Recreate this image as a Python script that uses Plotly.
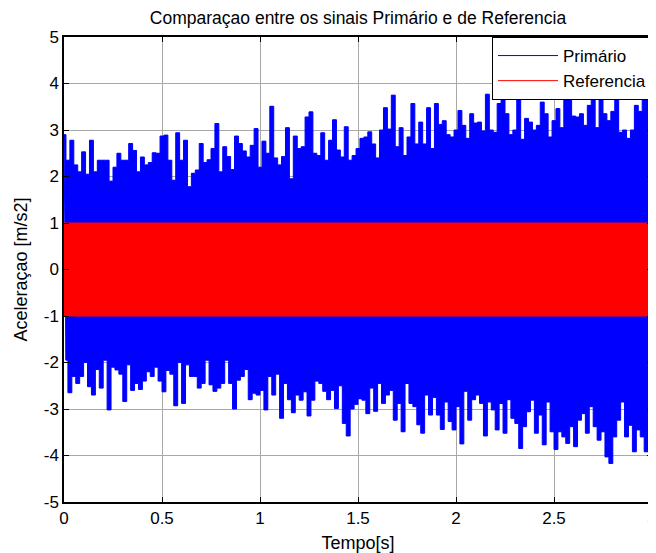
import numpy as np
import plotly.graph_objects as go

# ---- data ----
# Primary signal: positive peaks (every 0.02 s starting at 0.00 s)
primario_picos_sup = [
    2.90, 2.35, 2.78, 2.25, 2.10, 2.53, 2.05, 2.78, 2.10, 2.35,
    2.35, 2.35, 1.90, 2.20, 2.50, 2.35, 2.35, 2.71, 2.56, 2.10,
    2.42, 2.25, 2.30, 2.51, 2.50, 2.87, 2.89, 2.35, 1.92, 2.94,
    2.35, 2.78, 1.78, 2.07, 2.14, 2.71, 2.30,
    2.36, 2.60, 3.14, 2.10, 2.64, 2.43, 2.15, 2.87, 2.71, 2.55,
    2.42, 2.67, 3.03, 2.20, 2.76, 2.50, 3.51, 2.40, 2.25, 2.43,
    3.05, 1.95, 2.87, 2.60, 2.64, 3.28, 3.39, 2.50, 2.45, 2.94,
    2.35, 2.78, 3.22, 2.57, 2.42, 3.07, 2.35, 2.45,
    2.60, 2.82, 2.85, 2.96, 2.70, 2.40, 3.00, 3.48, 3.02, 3.75,
    2.64, 3.05, 2.45, 2.85, 3.57, 2.70, 3.17, 2.70, 3.48, 2.60,
    3.57, 3.12, 3.20, 2.90, 2.85, 3.00, 3.42, 3.10, 2.82, 3.35,
    3.15, 3.17, 2.98, 3.77, 3.00, 2.95, 3.57,
    3.78, 3.35, 2.90, 3.00, 3.80, 2.80, 3.25, 3.17, 3.00, 3.10,
    3.60, 3.35, 2.85, 3.20, 3.46, 3.05, 3.71, 3.85, 3.30, 3.28,
    3.35, 3.10, 3.53, 3.90, 3.05, 3.80, 3.35, 3.20, 3.40, 3.85,
    2.95, 3.00, 2.82, 3.00, 3.53, 3.40, 3.90, 3.95,
]
# Primary signal: negative peaks (every 0.02 s starting at 0.01 s)
primario_picos_inf = [
    -1.95, -2.65, -2.30, -2.45, -2.30, -2.00, -2.52, -2.70, -2.15, -2.55,
    -1.95, -3.02, -2.10, -2.16, -2.25, -2.84, -2.05, -2.60, -2.45, -2.58,
    -2.40, -2.20, -2.30, -2.10, -2.40, -2.63, -2.17, -2.25, -2.93, -2.00,
    -2.88, -2.05, -2.30, -2.30, -2.55, -2.45, -1.95,
    -2.48, -2.62, -2.55, -2.45, -1.95, -2.45, -3.00, -2.38, -2.30, -2.15,
    -2.80, -2.66, -2.70, -2.60, -3.02, -2.30, -2.70, -2.25, -3.20, -2.45,
    -2.80, -3.08, -2.70, -2.81, -2.63, -3.15, -2.81, -2.40, -2.45, -2.62,
    -2.80, -2.60, -2.99, -2.50, -3.31, -3.58, -3.00,
    -2.90, -2.78, -2.81, -3.10, -2.55, -3.05, -2.45, -2.88, -2.70, -2.60,
    -3.24, -2.88, -3.49, -2.45, -2.88, -2.95, -3.34, -3.52, -2.70, -3.13,
    -2.75, -3.13, -3.44, -2.85, -3.27, -3.45, -2.95, -3.75, -2.62, -3.24,
    -2.80, -2.70, -2.88, -3.58, -2.85, -3.02, -3.45,
    -2.88, -3.52, -2.80, -3.20, -3.31, -3.85, -3.38, -3.06, -2.81, -3.52,
    -3.13, -3.77, -2.85, -3.49, -3.87, -3.49, -3.60, -3.74, -3.38, -3.81,
    -3.24, -3.10, -3.52, -2.95, -3.38, -3.67, -3.49, -4.03, -4.17, -3.60,
    -3.24, -2.85, -3.60, -3.35, -3.92, -3.45, -3.60, -3.92, -3.88,
]
passo_picos = 0.02
inicio_sup = 0.00
inicio_inf = 0.01

# Reference signal (amplitude 1 sinusoid, drawn as its band)
referencia_t = [0.0, 3.0]
referencia_max = [1.0, 1.0]
referencia_min = [-1.0, -1.0]

x_ticks = [0, 0.5, 1, 1.5, 2, 2.5, 3]
x_tick_labels = ["0", "0.5", "1", "1.5", "2", "2.5", "3"]
y_ticks = [-5, -4, -3, -2, -1, 0, 1, 2, 3, 4, 5]
y_tick_labels = ["-5", "-4", "-3", "-2", "-1", "0", "1", "2", "3", "4", "5"]

# ---- build traces ----
t_sup = list(inicio_sup + passo_picos * np.arange(len(primario_picos_sup)))
t_inf = list(inicio_inf + passo_picos * np.arange(len(primario_picos_inf)))

FONT = "Liberation Sans, Arial, sans-serif"
BLUE = "#0000FF"
RED = "#FF0000"
fig = go.Figure()
# envelope of the primary signal, filled (upper peaks then lower peaks back)
fig.add_trace(go.Scatter(x=t_sup + t_inf[::-1], y=primario_picos_sup + primario_picos_inf[::-1],
                         mode="lines", fill="toself", fillcolor=BLUE,
                         line=dict(color=BLUE, width=1, shape="hvh"),
                         showlegend=False, hoverinfo="skip"))
# needle lines between successive peaks
xs, ys = [], []
for a, b, c, d in zip(t_sup, primario_picos_sup, t_inf, primario_picos_inf):
    xs += [a, c]
    ys += [b, d]
fig.add_trace(go.Scatter(x=xs, y=ys, mode="lines", line=dict(color=BLUE, width=1),
                         showlegend=False, hoverinfo="skip"))
fig.add_trace(go.Scatter(x=referencia_t + referencia_t[::-1],
                         y=referencia_max + referencia_min[::-1],
                         mode="lines", fill="toself", fillcolor=RED,
                         line=dict(color=RED, width=1), showlegend=False, hoverinfo="skip"))
fig.add_trace(go.Scatter(x=[None], y=[None], mode="lines", name="Primário",
                         line=dict(color=BLUE, width=1)))
fig.add_trace(go.Scatter(x=[None], y=[None], mode="lines", name="Referencia",
                         line=dict(color=RED, width=1)))

# the page body adds an 8 px offset; margins are shifted to compensate
W, H = 656, 553
axis_common = dict(showline=True, linecolor="black", linewidth=1.5, mirror="ticks",
                   ticks="inside", ticklen=5, tickcolor="black", showgrid=True,
                   gridcolor="#a8a8a8", gridwidth=1, zeroline=False, automargin=False,
                   ticklabeloverflow="allow",
                   tickfont=dict(family=FONT, size=17, color="black"))
fig.update_layout(
    width=W, height=H,
    margin=dict(l=56, r=12, t=29, b=59, autoexpand=False),
    paper_bgcolor="white", plot_bgcolor="white",
    font=dict(family=FONT, size=17, color="black"),
    title=dict(text="Comparaçao entre os sinais Primário e de Referencia",
               x=0.5, xref="paper", y=1 - 10 / H, yref="container",
               xanchor="center", yanchor="middle", font=dict(size=17.5)),
    xaxis=dict(range=[0, 3], tickvals=x_ticks, ticktext=x_tick_labels,
               title=dict(text="Tempo[s]", standoff=9, font=dict(size=18)), **axis_common),
    yaxis=dict(range=[-5, 5], tickvals=y_ticks, ticktext=y_tick_labels,
               title=dict(text="Aceleraçao [m/s2]", standoff=11, font=dict(size=18)), **axis_common),
    legend=dict(x=1, y=1, xanchor="right", yanchor="top", bgcolor="white",
                bordercolor="black", borderwidth=1, font=dict(size=17),
                itemwidth=60, tracegroupgap=0),
    showlegend=True,
)
fig.write_html("out.html")
